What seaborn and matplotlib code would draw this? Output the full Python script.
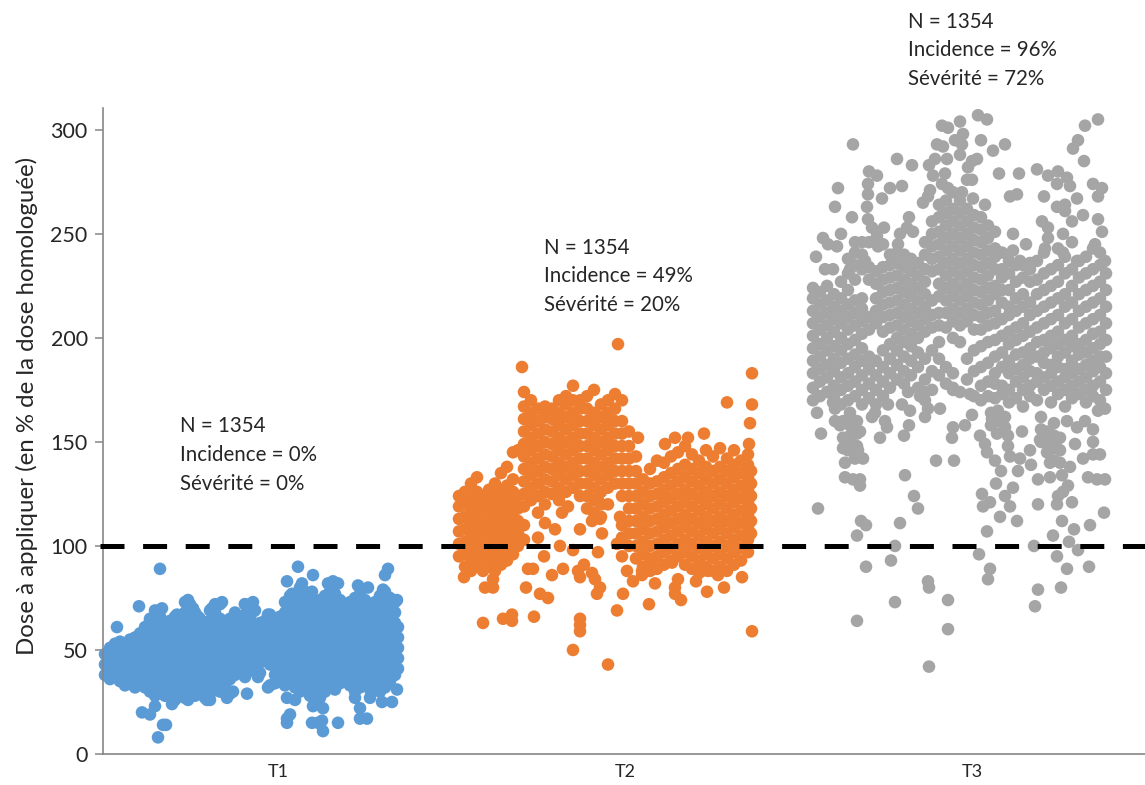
import numpy as np
import pandas as pd
import matplotlib
matplotlib.use('Agg')
import matplotlib.pyplot as plt
import seaborn as sns

treatments = ['T1', 'T2', 'T3']
y_ticks = [0, 50, 100, 150, 200, 250, 300]
seuil = 100
notes = {
    'T1': ['N = 1354', 'Incidence = 0%', 'Sévérité = 0%'],
    'T2': ['N = 1354', 'Incidence = 49%', 'Sévérité = 20%'],
    'T3': ['N = 1354', 'Incidence = 96%', 'Sévérité = 72%'],
}

# nuage dense : position dans le traitement -> doses
t1_core = {
    2: [38, 43, 48], 7: [36, 41, 46, 51], 12: [38, 43, 48, 53], 17: [35, 40, 45, 50, 54],
    22: [33, 38, 43, 48, 52], 27: [35, 40, 45, 50, 55], 32: [32, 37, 42, 47, 52, 56],
    37: [34, 39, 44, 49, 54, 58], 42: [32, 37, 42, 47, 52, 57, 61], 47: [30, 35, 40, 45, 50, 55, 60, 65],
    52: [28, 33, 38, 43, 48, 53, 58, 63], 57: [31, 36, 41, 46, 51, 56, 61, 66],
    62: [28, 33, 38, 43, 48, 53, 58, 62], 67: [30, 35, 40, 45, 50, 55, 60, 64],
    72: [26, 31, 36, 41, 46, 51, 56, 61, 66], 77: [29, 34, 39, 44, 49, 54, 59, 63],
    82: [27, 32, 37, 42, 47, 52, 57, 62, 68], 87: [30, 35, 40, 45, 50, 55, 60, 65, 72],
    92: [28, 33, 38, 43, 48, 53, 58, 63, 68], 97: [31, 36, 41, 46, 51, 56, 61, 65],
    102: [27, 32, 37, 42, 47, 52, 57, 61], 107: [29, 34, 39, 44, 49, 54, 59, 64, 69],
    112: [32, 37, 42, 47, 52, 57, 62, 68], 117: [30, 35, 40, 45, 50, 55, 60, 65, 72],
    122: [33, 38, 43, 48, 53, 58, 63], 127: [29, 36, 41, 46, 51, 56, 61, 65],
    132: [38, 43, 48, 53, 58, 63, 67], 137: [40, 45, 50, 55, 60, 64], 142: [37, 42, 47, 52, 57, 62, 67, 72],
    147: [40, 45, 50, 55, 60, 65], 152: [42, 47, 52, 57, 62, 69], 157: [39, 44, 49, 54, 59, 63],
    162: [45, 50, 55, 60, 64], 167: [33, 43, 48, 53, 58, 63, 67], 172: [38, 46, 51, 56, 61, 65],
    177: [36, 41, 46, 51, 56, 61, 66], 182: [33, 38, 43, 48, 53, 58, 63, 68, 73],
    187: [35, 40, 45, 50, 55, 60, 65, 70, 76], 192: [32, 37, 42, 47, 52, 57, 62, 67, 72],
    197: [30, 35, 40, 45, 50, 55, 60, 65, 70, 75, 80], 202: [33, 38, 43, 48, 53, 58, 63, 68, 73, 78],
    207: [28, 35, 40, 45, 50, 55, 60, 65, 70, 75], 212: [30, 37, 42, 47, 52, 57, 62, 67, 72],
    217: [27, 32, 39, 44, 49, 54, 59, 64, 69, 74], 222: [30, 35, 40, 45, 50, 55, 60, 65, 70, 76],
    227: [33, 38, 43, 48, 53, 58, 63, 68, 73, 78], 232: [31, 36, 41, 46, 51, 56, 61, 66, 71, 77],
    237: [34, 39, 44, 49, 54, 59, 64, 69, 74], 242: [36, 41, 46, 51, 56, 61, 66, 72],
    247: [33, 38, 43, 48, 53, 58, 63, 68, 73], 252: [30, 35, 40, 45, 50, 55, 60, 65, 70, 75],
    257: [32, 37, 42, 47, 52, 57, 62, 67, 72, 77], 262: [34, 39, 44, 49, 54, 59, 64, 69, 74],
    267: [31, 36, 41, 46, 51, 56, 61, 66, 71], 272: [33, 38, 43, 48, 53, 58, 63, 68, 73],
    277: [30, 35, 40, 45, 50, 55, 60, 65, 70, 76], 282: [32, 37, 42, 47, 52, 57, 62, 67, 72, 78],
    287: [35, 40, 45, 50, 55, 60, 65, 70, 75], 292: [38, 43, 48, 53, 58, 63, 68, 73], 295: [41, 46, 51, 56, 61],
}
t1_x = [14, 36, 57, 55, 60, 63, 39, 47, 52, 52, 59, 47, 74, 85, 82, 90, 95, 112, 119, 109, 132, 142, 150, 149, 165,
        69, 85, 104, 107, 124, 130, 144, 165, 155, 172, 184, 195, 210, 199, 189, 230, 225, 235, 255, 265, 280, 285,
        282, 294, 209, 184, 187, 184, 184, 192, 209, 220, 219, 215, 220, 210, 235, 252, 257, 257, 264, 279, 289, 294, 267]
t1_y = [61, 71, 89, 8, 14, 14, 20, 19, 23, 69, 70, 64, 67, 74, 73, 70, 66, 72, 73, 70, 68, 72, 73, 68, 67,
        24, 26, 26, 26, 27, 30, 29, 32, 37, 34, 83, 90, 86, 82, 77, 83, 82, 82, 81, 80, 79, 89,
        86, 74, 78, 17, 19, 15, 27, 26, 15, 11, 16, 15, 22, 23, 15, 27, 22, 17, 17, 25, 25, 31, 27]

t2_core = {
    1: [95, 101, 107, 113, 119, 124], 7: [90, 96, 102, 108, 114, 120, 126], 13: [88, 93, 99, 105, 111, 117, 123, 130],
    19: [90, 96, 102, 108, 114, 120, 126, 133], 25: [88, 94, 100, 106, 112, 118, 124],
    31: [90, 96, 102, 108, 114, 120, 127], 37: [88, 94, 100, 106, 112, 118, 124, 130],
    43: [91, 97, 103, 109, 115, 121, 127, 135], 49: [93, 99, 105, 111, 117, 123, 129, 138],
    55: [96, 102, 108, 114, 120, 126, 132, 145], 60: [100, 106, 112, 118, 124, 146],
    66: [103, 110, 119, 125, 131, 137, 143, 149, 155, 161, 167, 174], 73: [122, 128, 134, 140, 146, 152, 158, 164, 170],
    80: [116, 124, 130, 136, 142, 148, 154, 160, 166], 87: [120, 126, 132, 138, 144, 150, 156, 162, 167],
    94: [125, 131, 137, 143, 149, 155, 161, 166], 101: [122, 128, 134, 140, 146, 152, 158, 164, 170],
    108: [126, 132, 138, 144, 150, 156, 162, 168, 172], 115: [128, 134, 140, 146, 152, 158, 164, 170, 177],
    122: [124, 130, 136, 142, 148, 154, 160, 166, 170], 129: [118, 124, 130, 136, 142, 148, 154, 160, 166, 172],
    136: [116, 122, 128, 134, 140, 146, 152, 158, 164, 175], 143: [114, 120, 126, 132, 138, 144, 150, 156, 162, 168],
    150: [128, 134, 140, 146, 152, 158, 164, 170], 157: [130, 136, 142, 148, 154, 160, 166, 173],
    164: [104, 110, 124, 130, 136, 142, 148, 154, 160, 170], 171: [100, 106, 112, 118, 124, 130, 136, 142, 148, 155],
    178: [94, 100, 106, 112, 118, 124, 130, 136, 143], 185: [90, 96, 102, 108, 114, 120, 126, 132],
    192: [88, 94, 100, 106, 112, 118, 124, 130, 137], 199: [89, 95, 101, 107, 113, 119, 125, 131, 141],
    206: [91, 97, 103, 109, 115, 121, 127, 133, 140], 213: [93, 99, 105, 111, 117, 123, 129, 135, 143],
    220: [95, 101, 107, 113, 119, 125, 131, 137, 145], 227: [91, 97, 103, 109, 115, 121, 127, 133, 139, 148],
    234: [89, 95, 101, 107, 113, 119, 125, 131, 137, 144], 241: [87, 93, 99, 105, 111, 117, 123, 129, 135, 141],
    248: [90, 96, 102, 108, 114, 120, 126, 132, 138, 146], 255: [88, 94, 100, 106, 112, 118, 124, 130, 136, 143],
    262: [90, 96, 102, 108, 114, 120, 126, 132, 138, 147], 269: [88, 94, 100, 106, 112, 118, 124, 130, 136, 142],
    276: [91, 97, 103, 109, 115, 121, 127, 133, 139, 146], 283: [93, 99, 105, 111, 117, 123, 129, 135, 141],
    290: [97, 103, 109, 115, 121, 127, 133, 139, 144], 293: [106, 112, 118, 124, 130, 136],
}
t2_x = [160, 64, 294, 269, 294, 292, 291, 180, 217, 230, 246, 207, 6, 25, 45, 54, 54, 76, 122, 122, 122, 115, 150, 294,
        159, 191, 165, 223, 217, 220, 217, 238, 249, 266, 197, 90, 82, 68, 27, 35, 35, 94, 105, 75, 70, 86, 139, 142,
        137, 134, 122, 120, 126, 175, 184, 184, 284, 260, 250, 244, 214, 195, 169, 164, 140, 102, 115, 80, 97, 87,
        104, 110, 122, 144, 134, 142, 150, 140, 159, 162]
t2_y = [197, 186, 183, 169, 168, 159, 149, 152, 152, 152, 154, 149, 85, 63, 65, 67, 64, 66, 65, 62, 59, 50, 43, 59,
        69, 72, 77, 74, 77, 84, 80, 83, 78, 80, 82, 75, 77, 80, 80, 80, 84, 86, 89, 89, 89, 95, 77, 80,
        84, 87, 85, 88, 91, 83, 86, 88, 85, 86, 88, 88, 92, 90, 88, 95, 97, 100, 98, 104, 108, 111,
        116, 119, 108, 106, 112, 113, 120, 122, 101, 114]

t3_core = {
    0: [170, 176, 183, 189, 195, 201, 207, 213, 219, 224], 7: [172, 179, 185, 191, 197, 204, 210, 216, 222],
    14: [174, 181, 187, 194, 200, 206, 212, 218, 225], 21: [171, 177, 184, 190, 196, 203, 209, 215, 221],
    22: [160, 166], 28: [168, 175, 181, 188, 194, 200, 207, 213, 219, 227], 30: [147, 152, 160],
    35: [170, 177, 183, 190, 197, 204, 210, 216, 223, 231, 238], 37: [150, 158, 164],
    42: [172, 179, 186, 192, 199, 206, 212, 218, 228, 235, 241], 44: [148, 154, 160],
    49: [168, 175, 182, 189, 195, 202, 208, 214, 219, 233, 240],
    56: [171, 178, 185, 191, 204, 210, 228, 234, 246], 63: [168, 175, 182, 189, 207, 213, 219, 226, 232],
    70: [172, 179, 186, 194, 203, 210, 216, 222, 228, 234], 77: [176, 183, 190, 197, 205, 211, 217, 223, 229, 235, 240],
    84: [180, 187, 194, 200, 206, 212, 218, 224, 230, 236, 241], 91: [178, 184, 191, 198, 204, 210, 216, 222, 228, 234, 240],
    98: [182, 189, 196, 202, 208, 214, 220, 226, 232, 238], 105: [176, 186, 193, 200, 206, 212, 218, 224, 230, 236],
    112: [170, 180, 190, 203, 209, 215, 221, 227, 233, 240, 246], 119: [175, 184, 194, 205, 211, 218, 232, 238, 244, 250, 256],
    126: [182, 190, 198, 206, 212, 220, 226, 233, 239, 245, 251, 258, 264],
    133: [178, 186, 205, 212, 218, 224, 230, 236, 242, 248, 254, 260, 266],
    140: [176, 183, 200, 208, 214, 220, 226, 232, 238, 244, 250, 256, 262, 270],
    147: [174, 198, 206, 212, 218, 224, 230, 236, 242, 248, 254, 260, 266],
    154: [180, 190, 208, 214, 220, 226, 232, 238, 244, 250, 256, 262],
    161: [172, 184, 194, 204, 211, 217, 223, 229, 235, 241, 247, 253, 259],
    168: [170, 177, 186, 196, 204, 210, 216, 222, 228, 234, 240, 246, 252, 258],
    175: [172, 179, 188, 198, 206, 212, 218, 224, 230, 236, 242, 248, 254],
    178: [158, 164], 185: [160, 165], 192: [157, 162],
    182: [171, 178, 183, 191, 199, 207, 213, 221, 225, 233, 239, 243, 251],
    189: [173, 177, 186, 193, 201, 209, 217, 223, 229, 233, 241],
    196: [169, 175, 183, 189, 197, 203, 211, 215, 223, 231, 237],
    203: [171, 179, 185, 192, 199, 205, 213, 219, 227, 235],
    210: [167, 175, 181, 187, 193, 201, 207, 215, 221, 229, 235],
    217: [172, 177, 184, 190, 195, 203, 211, 217, 227, 233],
    224: [170, 179, 183, 191, 198, 205, 213, 221, 228, 237], 228: [150, 156, 162],
    231: [175, 181, 188, 193, 199, 207, 215, 223, 231, 241], 235: [145, 150, 155],
    238: [169, 177, 183, 187, 195, 201, 209, 217, 225, 233], 241: [141, 147, 153, 159],
    245: [173, 179, 186, 191, 197, 203, 211, 219, 227, 235, 243], 247: [140, 146, 152],
    252: [167, 175, 181, 185, 193, 199, 207, 215, 221, 231, 239],
    259: [171, 177, 183, 189, 196, 201, 209, 217, 225, 233, 246],
    266: [173, 179, 185, 192, 197, 205, 213, 221, 229, 237],
    273: [169, 175, 181, 187, 193, 199, 207, 215, 223, 231, 239],
    280: [172, 177, 184, 189, 195, 202, 209, 217, 225, 233, 243],
    287: [170, 179, 186, 191, 197, 203, 211, 219, 227, 235, 241], 293: [175, 183, 191, 199, 207, 215, 223, 231],
}
t3_x = [40, 84, 99, 56, 64, 55, 55, 77, 89, 69, 25, 22, 39, 54, 55, 59, 96, 71, 28, 10, 15, 24, 3, 12, 20, 42, 49, 37, 52,
        65, 70, 64, 87, 100, 94, 85, 129, 135, 147, 165, 174, 150, 142, 149, 147, 124, 130, 134, 122, 116, 120, 132, 129,
        135, 164, 159, 155, 154, 159, 149, 160, 168, 180, 192, 186, 206, 224, 235, 245, 244, 254, 257, 272, 285, 265, 260,
        271, 280, 289, 285, 197, 204, 231, 264, 252, 244, 252, 172, 200, 229, 235, 213, 200, 207, 217, 110, 117, 115,
        270, 285, 259, 289, 235, 232, 250, 250, 282, 292, 264,
        4, 8, 5, 20, 27, 37, 47, 35, 45, 50, 32, 42, 32, 40, 47, 47, 59, 67, 74, 72, 75, 62, 89, 95, 107, 112, 97, 112, 115,
        127, 96, 91, 140, 139, 152, 159, 123, 141, 92, 101, 105, 48, 53, 44, 87, 82, 78, 53, 115, 116, 82, 135, 44, 135, 116,
        167, 172, 174, 182, 188, 205, 200, 183, 169, 177, 170, 192, 197, 187, 204, 174, 166, 177, 175, 221, 225, 225, 248,
        222, 254, 276, 244, 265, 256, 240, 249, 261, 277, 291, 259, 244, 245, 250, 255, 275, 284, 292, 225, 237, 249, 257,
        218, 197, 207, 195, 184, 195, 209, 262, 270, 280, 287, 280, 280, 254, 264, 272, 234, 237, 227, 217, 244, 285, 292,
        179, 190, 140, 157]
t3_y = [293, 286, 283, 280, 278, 274, 269, 272, 273, 267, 272, 263, 258, 263, 257, 253, 258, 253, 250, 248, 245, 244, 239, 233, 233, 246, 246, 233, 237,
        244, 245, 249, 250, 251, 253, 245, 302, 301, 304, 307, 305, 298, 295, 293, 288, 293, 292, 286, 286, 283, 278, 279, 274,
        272, 286, 285, 282, 276, 276, 270, 267, 295, 290, 293, 279, 279, 281, 278, 280, 274, 277, 273, 302, 305, 295, 291,
        285, 274, 272, 268, 268, 269, 268, 267, 264, 263, 261, 264, 250, 256, 253, 245, 242, 237, 236, 265, 271, 268,
        259, 257, 256, 251, 248, 243, 250, 241, 245, 237, 237,
        164, 154, 118, 169, 158, 153, 155, 146, 146, 142, 140, 142, 133, 132, 132, 129, 162, 152, 157, 160, 168, 164, 168, 174, 172, 174, 165, 162, 166,
        166, 158, 153, 157, 152, 158, 163, 141, 141, 134, 124, 118, 112, 110, 105, 111, 100, 93, 90, 83, 80, 73, 74, 64, 60, 42,
        153, 149, 145, 141, 136, 136, 128, 130, 125, 121, 119, 124, 119, 114, 112, 107, 96, 89, 84, 100, 120, 79, 80,
        71, 89, 90, 95, 98, 102, 105, 112, 108, 110, 116, 121, 120, 124, 126, 129, 133, 132, 132, 132, 133, 134, 138,
        139, 143, 142, 148, 154, 153, 155, 149, 142, 144, 144, 150, 156, 160, 157, 160, 145, 140, 151, 146, 151, 165, 166,
        161, 161, 175, 173]

sns.set_theme(style='white')
plt.rcParams['font.family'] = ['Lato', 'DejaVu Sans']


def to_frame(name, core, xs, ys):
    rows = [(x, d) for x, doses in core.items() for d in doses] + list(zip(xs, ys))
    df = pd.DataFrame(rows, columns=['x', 'dose'])
    df['traitement'] = name
    return df


# decalage de chaque traitement sur l'axe
decalage = {'T1': 0, 'T2': 355, 'T3': 710}
df = pd.concat([to_frame('T1', t1_core, t1_x, t1_y),
                to_frame('T2', t2_core, t2_x, t2_y),
                to_frame('T3', t3_core, t3_x, t3_y)])
df['pos'] = df['x'] + df['traitement'].map(decalage)

W, H = 1145, 785
fig = plt.figure(figsize=(W / 100, H / 100), dpi=100)
ax = fig.add_axes([103 / W, (H - 754) / H, 1042 / W, (754 - 108) / H])

palette = {'T1': '#5B9BD5', 'T2': '#ED7D31', 'T3': '#A5A5A5'}
sns.scatterplot(data=df, x='pos', y='dose', hue='traitement', palette=palette, s=82,
                linewidth=0, legend=False, clip_on=False, ax=ax)

ax.plot([-3, 1042], [seuil, seuil], color='black', lw=3.6, clip_on=False, zorder=5,
        dashes=(24 / 5, 18.6 / 5), dash_capstyle='butt')

ax.set_xlim(0, 1042)
ax.set_ylim(0, 310.5)
ax.set_yticks(y_ticks)
ax.set_xticks([175, 522, 869])
ax.set_xticklabels(treatments, fontsize=13, color='#262626')
ax.tick_params(axis='x', length=0, pad=7)
ax.tick_params(axis='y', length=6, width=1.1, color='#868686', labelsize=15.5, labelcolor='#262626', left=True, pad=5)
ax.set_ylabel('Dose à appliquer (en % de la dose homologuée)', fontsize=17.3, color='#262626')
ax.yaxis.set_label_coords(-0.0625, 0.539)
ax.set_xlabel('')
sns.despine(ax=ax)
for side in ['left', 'bottom']:
    ax.spines[side].set_color('#868686')
    ax.spines[side].set_linewidth(1.2)

# annotations, en pixels de la figure
note_pos = {'T1': (180, [426, 455, 484]), 'T2': (544, [248, 276, 305]), 'T3': (908, [22, 50, 79])}
for t in treatments:
    px, pys = note_pos[t]
    for line, py in zip(notes[t], pys):
        fig.text(px / W, 1 - py / H, line, fontsize=14.8, color='#262626', va='center', ha='left')

fig.savefig('out.png', dpi=100)
